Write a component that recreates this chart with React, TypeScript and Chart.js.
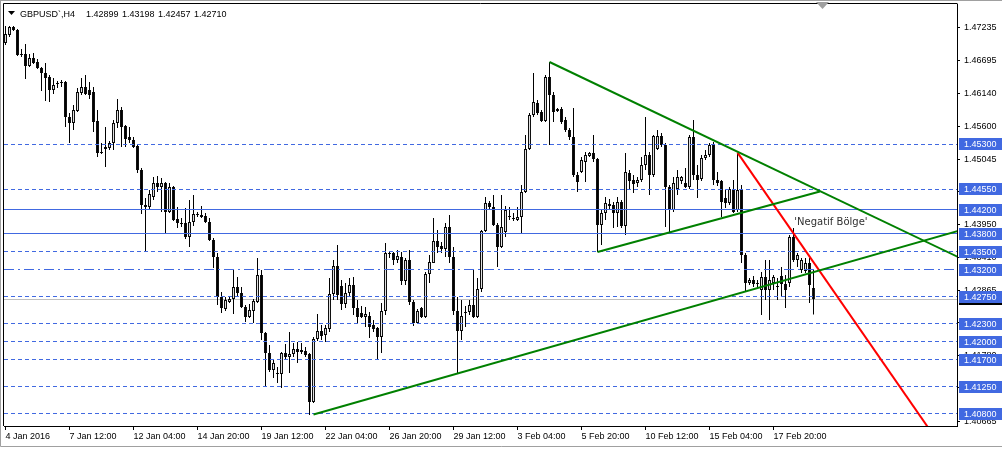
import { useEffect, useRef } from "react";
import { Chart, registerables } from "chart.js";

Chart.register(...registerables);

// ---------- data (GBPUSD H4, one entry per bar) ----------
const symbolTitle = "GBPUSD`,H4";

const opens = [
  1.46985, 1.47118, 1.47252, 1.47202, 1.46802, 1.46802, 1.46601, 1.46735, 1.46668, 1.46568,
  1.46485, 1.46418, 1.46201, 1.46302, 1.46335, 1.46335, 1.45751, 1.45651, 1.45851, 1.46152,
  1.46251, 1.46201, 1.46168, 1.45684, 1.45167, 1.45217, 1.45234, 1.45318, 1.45651, 1.45868,
  1.45601, 1.45418, 1.45368, 1.45267, 1.44867, 1.44284, 1.44250, 1.44417, 1.44651, 1.44584,
  1.44651, 1.44167, 1.44584, 1.44050, 1.43984, 1.43984, 1.43750, 1.44000, 1.44134, 1.44117,
  1.44100, 1.44000, 1.43700, 1.43417, 1.42750, 1.42549, 1.42666, 1.42716, 1.42916, 1.42816,
  1.42583, 1.42416, 1.42516, 1.42666, 1.43116, 1.42149, 1.41816, 1.41532, 1.41482, 1.41466,
  1.41816, 1.41749, 1.41799, 1.41882, 1.41866, 1.41849, 1.41799, 1.41000, 1.42049, 1.42183,
  1.42116, 1.42216, 1.42800, 1.43266, 1.42933, 1.42633, 1.42816, 1.42950, 1.42566, 1.42483,
  1.42416, 1.42433, 1.42283, 1.42233, 1.42083, 1.42516, 1.43483, 1.43483, 1.43367, 1.43417,
  1.43016, 1.43367, 1.42666, 1.42316, 1.42566, 1.42416, 1.43133, 1.43317, 1.43683, 1.43600,
  1.43550, 1.43917, 1.43417, 1.42516, 1.42183, 1.42483, 1.42499, 1.42616, 1.42416, 1.42883,
  1.43850, 1.44317, 1.44250, 1.43950, 1.43583, 1.43833, 1.44085, 1.44068, 1.44034, 1.44085,
  1.44500, 1.45217, 1.45784, 1.45985, 1.45834, 1.45684, 1.46418, 1.46118, 1.45851, 1.45884,
  1.45701, 1.45534, 1.45417, 1.44784, 1.44834, 1.45001, 1.45101, 1.45151, 1.45051, 1.43950,
  1.44150, 1.44300, 1.44284, 1.44150, 1.44334, 1.43934, 1.44817, 1.44701, 1.44651, 1.44701,
  1.44951, 1.45117, 1.44784, 1.45217, 1.45434, 1.45284, 1.44584, 1.44200, 1.44551, 1.44684,
  1.44651, 1.44584, 1.45417, 1.44784, 1.44717, 1.45067, 1.45117, 1.45284, 1.44701, 1.44684,
  1.44400, 1.44317, 1.44551, 1.44200, 1.44534, 1.43450, 1.42983, 1.43033, 1.42983, 1.42866,
  1.43083, 1.42866, 1.42983, 1.42916, 1.43100, 1.42966, 1.42983, 1.43750, 1.43367, 1.43200,
  1.43183, 1.43317, 1.42899,
];

const highs = [
  1.47268, 1.47268, 1.47268, 1.47218, 1.46885, 1.46968, 1.46802, 1.46818, 1.46718, 1.46585,
  1.46651, 1.46451, 1.46401, 1.46351, 1.46368, 1.46351, 1.45818, 1.45951, 1.46235, 1.46401,
  1.46451, 1.46335, 1.46251, 1.45868, 1.45318, 1.45584, 1.45351, 1.45701, 1.46052, 1.45918,
  1.45618, 1.45584, 1.45418, 1.45301, 1.44901, 1.44400, 1.44532, 1.44749, 1.44765, 1.44734,
  1.44667, 1.44651, 1.44601, 1.44250, 1.44067, 1.44234, 1.44367, 1.44450, 1.44167, 1.44267,
  1.44150, 1.44068, 1.43733, 1.43483, 1.42833, 1.42750, 1.42750, 1.43216, 1.43083, 1.42916,
  1.42616, 1.42633, 1.42716, 1.43400, 1.43200, 1.42166, 1.41950, 1.41699, 1.41582, 1.41832,
  1.41966, 1.42166, 1.41982, 1.41999, 1.41982, 1.41916, 1.41816, 1.42082, 1.42466, 1.42283,
  1.42283, 1.43066, 1.43367, 1.43617, 1.43033, 1.42983, 1.43066, 1.43083, 1.42700, 1.42599,
  1.42583, 1.42499, 1.42366, 1.42249, 1.42650, 1.43650, 1.43500, 1.43500, 1.43533, 1.43500,
  1.43400, 1.43533, 1.42700, 1.42549, 1.42583, 1.43166, 1.43450, 1.44067, 1.43867, 1.43667,
  1.43984, 1.44117, 1.43583, 1.42750, 1.42700, 1.42599, 1.42700, 1.43200, 1.43066, 1.43867,
  1.44417, 1.44350, 1.44450, 1.43984, 1.44450, 1.44267, 1.44250, 1.44150, 1.44250, 1.44617,
  1.45451, 1.45818, 1.46485, 1.46035, 1.45868, 1.46451, 1.46668, 1.46168, 1.45901, 1.45918,
  1.45751, 1.45568, 1.45901, 1.44834, 1.45084, 1.45167, 1.45167, 1.45451, 1.45067, 1.44200,
  1.44417, 1.44384, 1.44334, 1.44417, 1.44367, 1.45151, 1.44867, 1.44784, 1.44751, 1.45084,
  1.45751, 1.45167, 1.45451, 1.45534, 1.45484, 1.45318, 1.44617, 1.44751, 1.44867, 1.44767,
  1.44901, 1.45451, 1.45701, 1.44951, 1.45117, 1.45201, 1.45318, 1.45334, 1.44834, 1.44701,
  1.44551, 1.44584, 1.44701, 1.45151, 1.44617, 1.43483, 1.43066, 1.43100, 1.43033, 1.43166,
  1.43367, 1.43367, 1.43116, 1.43066, 1.43250, 1.43116, 1.43783, 1.43900, 1.43483, 1.43400,
  1.43400, 1.43400, 1.43198,
];

const lows = [
  1.46952, 1.47085, 1.47185, 1.46768, 1.46752, 1.46385, 1.46585, 1.46635, 1.46551, 1.46185,
  1.46018, 1.46001, 1.46135, 1.46235, 1.46251, 1.45584, 1.45318, 1.45534, 1.45834, 1.46118,
  1.46118, 1.46051, 1.45501, 1.45084, 1.45134, 1.44917, 1.45201, 1.45201, 1.45568, 1.45251,
  1.45251, 1.45318, 1.45234, 1.44817, 1.44134, 1.43500, 1.44200, 1.44367, 1.44500, 1.44167,
  1.43817, 1.44150, 1.44017, 1.43900, 1.43917, 1.43717, 1.43583, 1.43934, 1.44085, 1.44068,
  1.43984, 1.43683, 1.43233, 1.42616, 1.42483, 1.42516, 1.42650, 1.42466, 1.42750, 1.42566,
  1.42333, 1.42399, 1.42316, 1.42650, 1.42033, 1.41249, 1.41499, 1.41399, 1.41314, 1.41232,
  1.41699, 1.41482, 1.41749, 1.41649, 1.41799, 1.41749, 1.40782, 1.40982, 1.42016, 1.42033,
  1.41999, 1.42166, 1.42700, 1.42700, 1.42533, 1.42566, 1.42750, 1.42449, 1.42299, 1.42399,
  1.42249, 1.42066, 1.42166, 1.41716, 1.41816, 1.42449, 1.43400, 1.43283, 1.43317, 1.42950,
  1.42950, 1.42616, 1.42266, 1.42299, 1.42399, 1.42399, 1.42983, 1.43317, 1.43483, 1.43483,
  1.43417, 1.43317, 1.42449, 1.41482, 1.42033, 1.42249, 1.42449, 1.42399, 1.42399, 1.42833,
  1.43833, 1.44200, 1.43934, 1.43250, 1.43567, 1.43750, 1.44034, 1.44017, 1.44017, 1.43817,
  1.44484, 1.45201, 1.45751, 1.45784, 1.45668, 1.45668, 1.45284, 1.45668, 1.45834, 1.45634,
  1.45501, 1.45367, 1.44751, 1.44500, 1.44817, 1.44667, 1.45084, 1.45001, 1.43500, 1.43617,
  1.44034, 1.44200, 1.43900, 1.43917, 1.43900, 1.43783, 1.44534, 1.44484, 1.44584, 1.44667,
  1.44867, 1.44450, 1.44751, 1.45201, 1.45251, 1.43917, 1.43817, 1.44167, 1.44450, 1.44634,
  1.44567, 1.44551, 1.44701, 1.44400, 1.44684, 1.45034, 1.45084, 1.44617, 1.44601, 1.44085,
  1.44234, 1.44284, 1.44150, 1.44167, 1.43317, 1.42833, 1.42950, 1.42916, 1.42900, 1.42449,
  1.42700, 1.42366, 1.42866, 1.42700, 1.42750, 1.42566, 1.42916, 1.43333, 1.43250, 1.43150,
  1.43150, 1.42650, 1.42457,
];

const closes = [
  1.47135, 1.47252, 1.47202, 1.46785, 1.46785, 1.46601, 1.46735, 1.46651, 1.46568, 1.46485,
  1.46401, 1.46201, 1.46285, 1.46318, 1.46318, 1.45751, 1.45651, 1.45868, 1.46168, 1.46251,
  1.46135, 1.46118, 1.45668, 1.45151, 1.45151, 1.45251, 1.45318, 1.45651, 1.45868, 1.45584,
  1.45384, 1.45368, 1.45251, 1.44867, 1.44284, 1.44250, 1.44465, 1.44651, 1.44584, 1.44651,
  1.44167, 1.44584, 1.44034, 1.43984, 1.43967, 1.43750, 1.44000, 1.44134, 1.44117, 1.44085,
  1.44000, 1.43700, 1.43417, 1.42750, 1.42566, 1.42700, 1.42716, 1.42916, 1.42816, 1.42583,
  1.42416, 1.42533, 1.42683, 1.43116, 1.42149, 1.41816, 1.41532, 1.41649, 1.41466, 1.41816,
  1.41749, 1.41799, 1.41882, 1.41832, 1.41832, 1.41782, 1.41000, 1.42049, 1.42183, 1.42099,
  1.42233, 1.42800, 1.43266, 1.42783, 1.42633, 1.42816, 1.42950, 1.42566, 1.42416, 1.42416,
  1.42466, 1.42249, 1.42216, 1.42083, 1.42516, 1.43483, 1.43467, 1.43367, 1.43433, 1.43016,
  1.43367, 1.42666, 1.42316, 1.42516, 1.42416, 1.43133, 1.43333, 1.43683, 1.43583, 1.43550,
  1.43917, 1.43417, 1.42516, 1.42183, 1.42433, 1.42499, 1.42616, 1.42416, 1.42883, 1.43850,
  1.44317, 1.44250, 1.43950, 1.43583, 1.43917, 1.44200, 1.44100, 1.44051, 1.44085, 1.44500,
  1.45217, 1.45784, 1.46001, 1.45818, 1.45684, 1.46418, 1.46118, 1.45834, 1.45884, 1.45668,
  1.45534, 1.45417, 1.44784, 1.44667, 1.45034, 1.45117, 1.45151, 1.45051, 1.43950, 1.44150,
  1.44317, 1.44267, 1.44150, 1.44334, 1.43934, 1.44834, 1.44684, 1.44634, 1.44701, 1.44951,
  1.45117, 1.44784, 1.45434, 1.45434, 1.45284, 1.44584, 1.44200, 1.44651, 1.44751, 1.44751,
  1.44584, 1.45417, 1.44784, 1.44701, 1.45067, 1.45117, 1.45284, 1.44701, 1.44651, 1.44334,
  1.44317, 1.44551, 1.44167, 1.44534, 1.43450, 1.42983, 1.43033, 1.42966, 1.42966, 1.43083,
  1.42866, 1.43033, 1.43083, 1.42933, 1.42966, 1.42866, 1.43750, 1.43367, 1.43450, 1.43367,
  1.43317, 1.42950, 1.42710,
];

// time axis: bar index of each label, and its text
const timeTickBars = [0, 16, 32, 48, 64, 80, 96, 112, 128, 144, 160, 176, 192];
const timeTickLabels = [
  "4 Jan 2016", "7 Jan 12:00", "12 Jan 04:00", "14 Jan 20:00", "19 Jan 12:00",
  "22 Jan 04:00", "26 Jan 20:00", "29 Jan 12:00", "3 Feb 04:00", "5 Feb 20:00",
  "10 Feb 12:00", "15 Feb 04:00", "17 Feb 20:00",
];

// price axis ticks
const priceTicks = [
  1.47235, 1.46695, 1.4614, 1.456, 1.45045, 1.44505, 1.4395, 1.4341, 1.42865,
  1.4232, 1.4178, 1.41235, 1.40665,
];

// horizontal levels
const dashedLevels = [1.453, 1.4455, 1.435, 1.4275, 1.423, 1.42, 1.417, 1.4125, 1.408];
const solidLevels = [1.442, 1.438];
const dashDotLevels = [1.432];
const bidPrice = 1.4271;

// trend lines: [barIndex, price] pairs
const supportLine = [[77, 1.4079], [240, 1.43887]];
const resistanceLine = [[136, 1.46668], [240, 1.43357]];
const innerLine = [[148, 1.435], [203.6, 1.44509]];
const redLine = [[183, 1.45156], [233, 1.40347]];

const noteText = "'Negatif Bölge'";
const notePos = [197.2, 1.4399];

// visible ranges
const X_MIN = -0.375;
const X_MAX = 237.875;
const Y_MIN = 1.40598;
const Y_MAX = 1.47635;

const AXIS_FONT_FAMILY = "'Liberation Sans', Arial, sans-serif";
const AXIS_FONT = { family: AXIS_FONT_FAMILY, size: 9 };
const LEVEL_BLUE = "#4169E1";

function rowOf(chart: any, v: number) {
  return Math.round(chart.scales.y.getPixelForValue(v) - 0.5) + 0.5;
}

function hLine(ctx: CanvasRenderingContext2D, area: any, y: number, dash: number[], color: string) {
  ctx.save();
  ctx.beginPath();
  ctx.rect(area.left, area.top, area.right - area.left, area.bottom - area.top);
  ctx.clip();
  ctx.strokeStyle = color;
  ctx.lineWidth = 1;
  ctx.setLineDash(dash);
  ctx.beginPath();
  ctx.moveTo(area.left, y);
  ctx.lineTo(area.right, y);
  ctx.stroke();
  ctx.restore();
}

function drawLevels(chart: any) {
  const { ctx, chartArea } = chart;
  dashedLevels.forEach((v) => hLine(ctx, chartArea, rowOf(chart, v), [4, 3], LEVEL_BLUE));
  solidLevels.forEach((v) => hLine(ctx, chartArea, rowOf(chart, v), [], LEVEL_BLUE));
  dashDotLevels.forEach((v) => hLine(ctx, chartArea, rowOf(chart, v), [10, 4, 2, 4], LEVEL_BLUE));
}

function axisBox(ctx: CanvasRenderingContext2D, chart: any, v: number, bg: string) {
  const right = chart.chartArea.right;
  const c = Math.round(chart.scales.y.getPixelForValue(v));
  ctx.fillStyle = bg;
  ctx.fillRect(right + 2, c - 6, 43, 12);
  ctx.fillStyle = "#ffffff";
  ctx.font = `9px ${AXIS_FONT_FAMILY}`;
  ctx.textAlign = "left";
  ctx.textBaseline = "middle";
  ctx.fillText(v.toFixed(5), right + 7, c + 0.5);
}

const mt4Plugin = {
  id: "mt4",
  beforeDraw(chart: any) {
    const { ctx, width, height } = chart;
    ctx.save();
    ctx.fillStyle = "#ffffff";
    ctx.fillRect(0, 0, width, height);
    ctx.restore();
  },
  beforeDatasetsDraw(chart: any) {
    chart.$levelsDone = false;
    hLine(chart.ctx, chart.chartArea, rowOf(chart, bidPrice), [], "#C0C0C0");
  },
  beforeDatasetDraw(chart: any, args: any) {
    const ds = chart.data.datasets[args.index];
    if (ds.kind === "trend" && !chart.$levelsDone) {
      chart.$levelsDone = true;
      drawLevels(chart);
    }
  },
  afterDraw(chart: any) {
    const { ctx, chartArea: a, scales } = chart;
    ctx.save();
    // outer frame of the chart area (top and left; axes draw the others)
    ctx.strokeStyle = "#000";
    ctx.lineWidth = 1;
    ctx.beginPath();
    ctx.moveTo(a.left - 0.5, a.bottom);
    ctx.lineTo(a.left - 0.5, a.top - 0.5);
    ctx.lineTo(a.right + 0.5, a.top - 0.5);
    ctx.stroke();

    // note text
    ctx.fillStyle = "#303030";
    ctx.font = "10px 'DejaVu Sans', sans-serif";
    ctx.textAlign = "left";
    ctx.textBaseline = "middle";
    ctx.fillText(noteText, scales.x.getPixelForValue(notePos[0]), scales.y.getPixelForValue(notePos[1]));

    // header
    ctx.fillStyle = "#000";
    ctx.beginPath();
    ctx.moveTo(8, 11);
    ctx.lineTo(15, 11);
    ctx.lineTo(11.5, 15);
    ctx.closePath();
    ctx.fill();
    ctx.font = `9px ${AXIS_FONT_FAMILY}`;
    ctx.textBaseline = "alphabetic";
    ctx.fillText(symbolTitle, 20, 16.5);
    const last = opens.length - 1;
    [opens[last], highs[last], lows[last], closes[last]].forEach((v, k) => {
      ctx.fillText(v.toFixed(5), 86 + k * 36, 16.5);
    });

    // price labels on the axis
    axisBox(ctx, chart, bidPrice, "#000000");
    [...dashedLevels, ...solidLevels, ...dashDotLevels].forEach((v) => axisBox(ctx, chart, v, LEVEL_BLUE));

    // window border
    ctx.strokeStyle = "#A0A0A0";
    ctx.beginPath();
    ctx.moveTo(0.5, 0);
    ctx.lineTo(0.5, 446.5);
    ctx.lineTo(1002, 446.5);
    ctx.moveTo(0, 0.5);
    ctx.lineTo(1002, 0.5);
    ctx.stroke();

    // chart shift marker
    ctx.fillStyle = "#A0A0A0";
    ctx.beginPath();
    ctx.moveTo(816, 2);
    ctx.lineTo(829, 2);
    ctx.lineTo(822.5, 9);
    ctx.closePath();
    ctx.fill();
    ctx.restore();
  },
};

export default function App() {
  const ref = useRef<HTMLCanvasElement>(null);

  useEffect(() => {
    document.body.style.margin = "0";
    const canvas = ref.current;
    if (!canvas) return;
    const idx = opens.map((_, i) => i);
    const bodies = idx.map((i) => ({ x: i, y: [opens[i], closes[i]] }));
    const wicks = idx.map((i) => ({ x: i, y: [lows[i], highs[i]] }));
    const bodyFill = idx.map((i) => (closes[i] >= opens[i] ? "#ffffff" : "#000000"));

    const trends = [
      { pts: supportLine, color: "#008000" },
      { pts: resistanceLine, color: "#008000" },
      { pts: innerLine, color: "#008000" },
      { pts: redLine, color: "#FF0000" },
    ].map((t) => ({
      type: "line",
      kind: "trend",
      data: t.pts.map(([x, y]) => ({ x, y })),
      borderColor: t.color,
      borderWidth: 2,
      pointRadius: 0,
      tension: 0,
      fill: false,
      order: 0,
    }));

    const chart = new Chart(canvas, {
      type: "bar",
      data: {
        datasets: [
          {
            type: "bar",
            label: "wick",
            data: wicks,
            backgroundColor: "#000000",
            borderWidth: 0,
            maxBarThickness: 1,
            grouped: false,
            inflateAmount: 0,
            order: 3,
          },
          {
            type: "bar",
            label: "body",
            data: bodies,
            backgroundColor: bodyFill,
            borderColor: "#000000",
            borderWidth: 1,
            borderSkipped: false,
            maxBarThickness: 3,
            grouped: false,
            inflateAmount: 0,
            minBarLength: 1,
            order: 2,
          },
          ...trends,
        ] as any,
      },
      options: {
        responsive: false,
        animation: false,
        events: [],
        layout: { padding: { left: 4, top: 4, right: 0, bottom: 0 } },
        plugins: { legend: { display: false }, tooltip: { enabled: false } },
        scales: {
          x: {
            type: "linear",
            position: "bottom",
            min: X_MIN,
            max: X_MAX,
            offset: false,
            afterBuildTicks: (s: any) => {
              s.ticks = timeTickBars.map((v) => ({ value: v }));
            },
            afterFit: (s: any) => {
              s.height = 23;
              s.paddingLeft = 0;
              s.paddingRight = 0;
              s.paddingTop = 0;
              s.paddingBottom = 0;
            },
            ticks: {
              callback: (v: any) => {
                const k = timeTickBars.indexOf(Number(v));
                return k >= 0 ? timeTickLabels[k] : "";
              },
              autoSkip: false,
              maxRotation: 0,
              minRotation: 0,
              align: "start",
              padding: 1,
              color: "#000",
              font: AXIS_FONT,
            },
            grid: { drawOnChartArea: false, drawTicks: true, tickLength: 4, color: "#000", offset: false },
            border: { display: true, color: "#000", width: 1 },
          },
          y: {
            type: "linear",
            position: "right",
            min: Y_MIN,
            max: Y_MAX,
            afterBuildTicks: (s: any) => {
              s.ticks = priceTicks.map((v) => ({ value: v }));
            },
            afterFit: (s: any) => {
              s.width = 45;
              s.paddingLeft = 0;
              s.paddingRight = 0;
              s.paddingTop = 0;
              s.paddingBottom = 0;
            },
            ticks: {
              callback: (v: any) => Number(v).toFixed(5),
              autoSkip: false,
              padding: 4,
              color: "#000",
              font: AXIS_FONT,
            },
            grid: { drawOnChartArea: false, drawTicks: true, tickLength: 3, color: "#000" },
            border: { display: true, color: "#000", width: 1 },
          },
        },
      } as any,
      plugins: [mt4Plugin as any],
    });
    return () => chart.destroy();
  }, []);

  return <canvas ref={ref} width={1002} height={449} style={{ display: "block" }} />;
}
